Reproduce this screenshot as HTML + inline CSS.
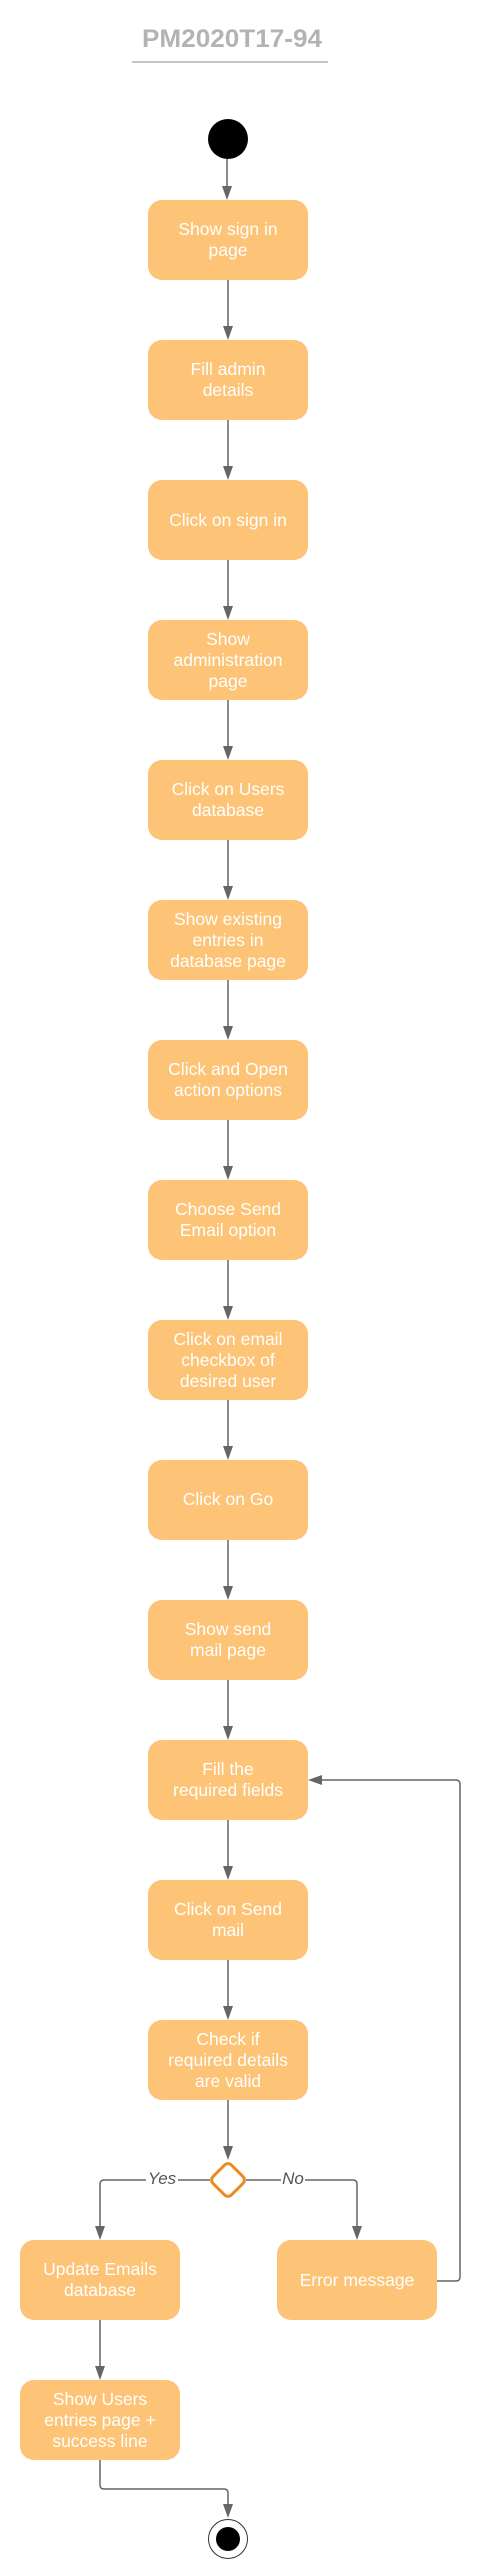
<!DOCTYPE html>
<html><head><meta charset="utf-8"><style>
html,body{margin:0;padding:0;background:#fff;}
svg{display:block;}
text{font-family:"Liberation Sans",Arial,sans-serif;}
.b{fill:#fdc377;}
.t{fill:#fff;font-size:17.5px;text-anchor:middle;}
.l{stroke:#666;stroke-width:1.5;fill:none;}
.a{fill:#666;}
</style></head><body>
<svg width="496" height="2569" viewBox="0 0 496 2569" xmlns="http://www.w3.org/2000/svg">
<text x="232" y="47" text-anchor="middle" font-size="25" font-weight="bold" fill="#b3b3b3" textLength="180" lengthAdjust="spacingAndGlyphs">PM2020T17-94</text>
<line x1="132" y1="62" x2="328" y2="62" stroke="#b3b3b3" stroke-width="1.5"/>
<circle cx="228" cy="139" r="20" fill="#000"/>
<line class="l" x1="227" y1="159" x2="227" y2="190"/>
<polygon class="a" points="222,186 232,186 227,200"/>

<g id="boxes">
<rect class="b" x="148" y="200" width="160" height="80" rx="14"/>
<text class="t" x="228" y="235">Show sign in</text><text class="t" x="228" y="256">page</text>

<rect class="b" x="148" y="340" width="160" height="80" rx="14"/>
<text class="t" x="228" y="375">Fill admin</text><text class="t" x="228" y="396">details</text>

<rect class="b" x="148" y="480" width="160" height="80" rx="14"/>
<text class="t" x="228" y="526">Click on sign in</text>

<rect class="b" x="148" y="620" width="160" height="80" rx="14"/>
<text class="t" x="228" y="645">Show</text><text class="t" x="228" y="666">administration</text><text class="t" x="228" y="687">page</text>

<rect class="b" x="148" y="760" width="160" height="80" rx="14"/>
<text class="t" x="228" y="795">Click on Users</text><text class="t" x="228" y="816">database</text>

<rect class="b" x="148" y="900" width="160" height="80" rx="14"/>
<text class="t" x="228" y="925">Show existing</text><text class="t" x="228" y="946">entries in</text><text class="t" x="228" y="967">database page</text>

<rect class="b" x="148" y="1040" width="160" height="80" rx="14"/>
<text class="t" x="228" y="1075">Click and Open</text><text class="t" x="228" y="1096">action options</text>

<rect class="b" x="148" y="1180" width="160" height="80" rx="14"/>
<text class="t" x="228" y="1215">Choose Send</text><text class="t" x="228" y="1236">Email option</text>

<rect class="b" x="148" y="1320" width="160" height="80" rx="14"/>
<text class="t" x="228" y="1345">Click on email</text><text class="t" x="228" y="1366">checkbox of</text><text class="t" x="228" y="1387">desired user</text>

<rect class="b" x="148" y="1460" width="160" height="80" rx="14"/>
<text class="t" x="228" y="1505">Click on Go</text>

<rect class="b" x="148" y="1600" width="160" height="80" rx="14"/>
<text class="t" x="228" y="1635">Show send</text><text class="t" x="228" y="1656">mail page</text>

<rect class="b" x="148" y="1740" width="160" height="80" rx="14"/>
<text class="t" x="228" y="1775">Fill the</text><text class="t" x="228" y="1796">required fields</text>

<rect class="b" x="148" y="1880" width="160" height="80" rx="14"/>
<text class="t" x="228" y="1915">Click on Send</text><text class="t" x="228" y="1936">mail</text>

<rect class="b" x="148" y="2020" width="160" height="80" rx="14"/>
<text class="t" x="228" y="2045">Check if</text><text class="t" x="228" y="2066">required details</text><text class="t" x="228" y="2087">are valid</text>

<rect class="b" x="20" y="2240" width="160" height="80" rx="14"/>
<text class="t" x="100" y="2275">Update Emails</text><text class="t" x="100" y="2296">database</text>

<rect class="b" x="277" y="2240" width="160" height="80" rx="14"/>
<text class="t" x="357" y="2286">Error message</text>

<rect class="b" x="20" y="2380" width="160" height="80" rx="14"/>
<text class="t" x="100" y="2405">Show Users</text><text class="t" x="100" y="2426">entries page +</text><text class="t" x="100" y="2447">success line</text>
</g>

<g>
<line class="l" x1="228" y1="280" x2="228" y2="330"/><polygon class="a" points="223,326 233,326 228,340"/>
<line class="l" x1="228" y1="420" x2="228" y2="470"/><polygon class="a" points="223,466 233,466 228,480"/>
<line class="l" x1="228" y1="560" x2="228" y2="610"/><polygon class="a" points="223,606 233,606 228,620"/>
<line class="l" x1="228" y1="700" x2="228" y2="750"/><polygon class="a" points="223,746 233,746 228,760"/>
<line class="l" x1="228" y1="840" x2="228" y2="890"/><polygon class="a" points="223,886 233,886 228,900"/>
<line class="l" x1="228" y1="980" x2="228" y2="1030"/><polygon class="a" points="223,1026 233,1026 228,1040"/>
<line class="l" x1="228" y1="1120" x2="228" y2="1170"/><polygon class="a" points="223,1166 233,1166 228,1180"/>
<line class="l" x1="228" y1="1260" x2="228" y2="1310"/><polygon class="a" points="223,1306 233,1306 228,1320"/>
<line class="l" x1="228" y1="1400" x2="228" y2="1450"/><polygon class="a" points="223,1446 233,1446 228,1460"/>
<line class="l" x1="228" y1="1540" x2="228" y2="1590"/><polygon class="a" points="223,1586 233,1586 228,1600"/>
<line class="l" x1="228" y1="1680" x2="228" y2="1730"/><polygon class="a" points="223,1726 233,1726 228,1740"/>
<line class="l" x1="228" y1="1820" x2="228" y2="1870"/><polygon class="a" points="223,1866 233,1866 228,1880"/>
<line class="l" x1="228" y1="1960" x2="228" y2="2010"/><polygon class="a" points="223,2006 233,2006 228,2020"/>
<line class="l" x1="228" y1="2100" x2="228" y2="2150"/><polygon class="a" points="223,2146 233,2146 228,2160"/>
</g>

<rect x="215" y="2167" width="26" height="26" rx="5" transform="rotate(45 228 2180)" fill="#fff" stroke="#ef8a1e" stroke-width="3"/>
<path class="l" d="M210,2180 H104 Q100,2180 100,2184 V2230"/>
<polygon class="a" points="95,2226 105,2226 100,2240"/>
<rect x="146" y="2170" width="32" height="18" fill="#fff"/>
<text x="162" y="2184" text-anchor="middle" font-size="17" font-style="italic" fill="#555">Yes</text>
<path class="l" d="M246,2180 H353 Q357,2180 357,2184 V2230"/>
<polygon class="a" points="352,2226 362,2226 357,2240"/>
<rect x="281" y="2170" width="24" height="18" fill="#fff"/>
<text x="293" y="2184" text-anchor="middle" font-size="17" font-style="italic" fill="#555">No</text>

<path class="l" d="M437,2281 H456 Q460,2281 460,2277 V1784 Q460,1780 456,1780 H318"/>
<polygon class="a" points="322,1775 322,1785 308,1780"/>

<line class="l" x1="100" y1="2320" x2="100" y2="2370"/><polygon class="a" points="95,2366 105,2366 100,2380"/>
<path class="l" d="M100,2460 V2485 Q100,2489 104,2489 H224 Q228,2489 228,2493 V2508"/>
<polygon class="a" points="223,2504 233,2504 228,2518"/>
<circle cx="228" cy="2539" r="19.5" fill="#fff" stroke="#333" stroke-width="1"/>
<circle cx="228" cy="2539" r="12" fill="#000"/>
</svg>
</body></html>
